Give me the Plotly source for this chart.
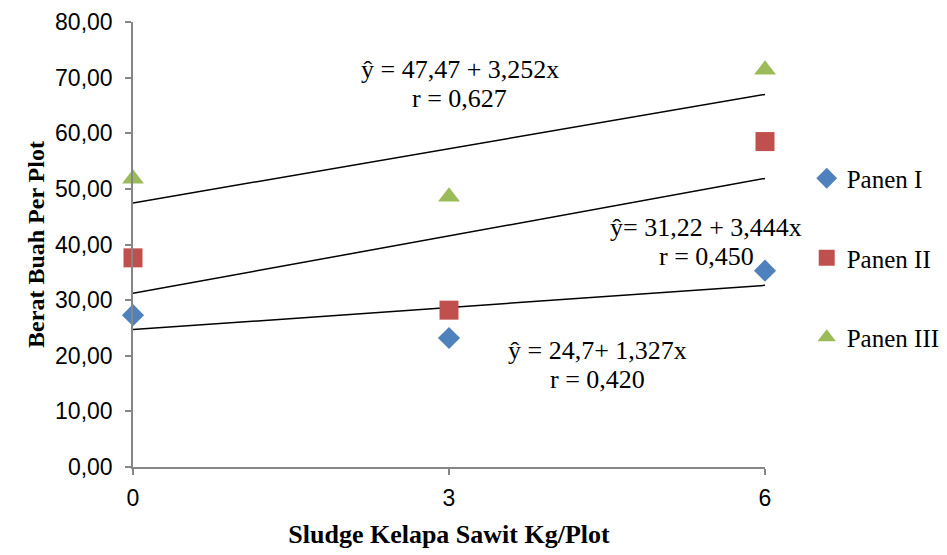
import plotly.graph_objects as go

x_vals = [0, 3, 6]
panen1 = [27.3, 23.2, 35.3]
panen2 = [37.6, 28.2, 58.5]
panen3 = [51.8, 48.6, 71.4]
series_names = ["Panen I", "Panen II", "Panen III"]

# trendline coefficients (intercept, slope)
intercepts = [24.7, 31.22, 47.47]
slopes = [1.327, 3.444, 3.252]

eq_lines = [("ŷ = 24,7+ 1,327x", "r = 0,420"),
            ("ŷ= 31,22 + 3,444x", "r = 0,450"),
            ("ŷ = 47,47 + 3,252x", "r = 0,627")]
eq_x = [4.41, 5.44, 3.10]
eq_y1 = [20.9, 43.0, 71.4]
eq_y2 = [15.8, 37.9, 66.3]

y_ticks = [0, 10, 20, 30, 40, 50, 60, 70, 80]
y_tick_labels = ["0,00", "10,00", "20,00", "30,00", "40,00", "50,00", "60,00", "70,00", "80,00"]

fig = go.Figure()

# trend lines
for b0, b1 in zip(intercepts, slopes):
    xs = [x_vals[0], x_vals[-1]]
    ys = [b0 + b1 * xv for xv in xs]
    fig.add_trace(go.Scatter(x=xs, y=ys, mode="lines",
                             line=dict(color="black", width=1.5),
                             showlegend=False, hoverinfo="skip"))

styles = [("diamond", "#4F81BD", 17), ("square", "#C0504D", 19), ("triangle-up", "#9BBB59", 19)]
for i, (vals, name) in enumerate(zip([panen1, panen2, panen3], series_names)):
    sym, col, sz = styles[i]
    fig.add_trace(go.Scatter(x=x_vals, y=vals, mode="markers", name=name,
                             legendgroup=name,
                             marker=dict(symbol=sym, color=col, size=sz,
                                         line=dict(width=0)),
                             cliponaxis=False))

tfont = dict(family="Liberation Serif", size=26, color="black")
for (l1, l2), ax, ay1, ay2 in zip(eq_lines, eq_x, eq_y1, eq_y2):
    fig.add_annotation(x=ax, y=ay1, text=l1, showarrow=False, font=tfont)
    fig.add_annotation(x=ax, y=ay2, text=l2, showarrow=False, font=tfont)

fig.update_layout(
    width=947, height=555,
    margin=dict(l=133, r=182, t=22, b=88, autoexpand=False),
    paper_bgcolor="white", plot_bgcolor="white",
    showlegend=True,
    legend=dict(x=1.066, y=0.70, xanchor="left", yanchor="top",
                font=dict(family="Liberation Serif", size=25, color="black"),
                tracegroupgap=44, traceorder="grouped",
                itemwidth=30, bgcolor="rgba(0,0,0,0)"),
    xaxis=dict(range=[0, 6], tickvals=x_vals, ticktext=[str(v) for v in x_vals],
               showgrid=False, zeroline=False, showline=True,
               linecolor="#868686", linewidth=1.5,
               ticks="outside", ticklen=6, tickcolor="#868686", tickwidth=1.5,
               tickfont=dict(family="Liberation Sans", size=23, color="black"),
               ticklabelstandoff=4,
               automargin=False,
               title=dict(text="<b>Sludge Kelapa Sawit Kg/Plot</b>",
                          font=dict(family="Liberation Serif", size=26, color="black"),
                          standoff=14)),
    yaxis=dict(range=[0, 80], tickvals=y_ticks, ticktext=y_tick_labels,
               showgrid=False, zeroline=False, showline=True,
               linecolor="#868686", linewidth=1.5,
               ticks="outside", ticklen=6, tickcolor="#868686", tickwidth=1.5,
               tickfont=dict(family="Liberation Sans", size=23, color="black"),
               ticklabelstandoff=8,
               automargin=False,
               title=dict(text="<b>Berat Buah Per Plot</b>",
                          font=dict(family="Liberation Serif", size=24, color="black"),
                          standoff=4)),
)

fig.write_html("out.html")
